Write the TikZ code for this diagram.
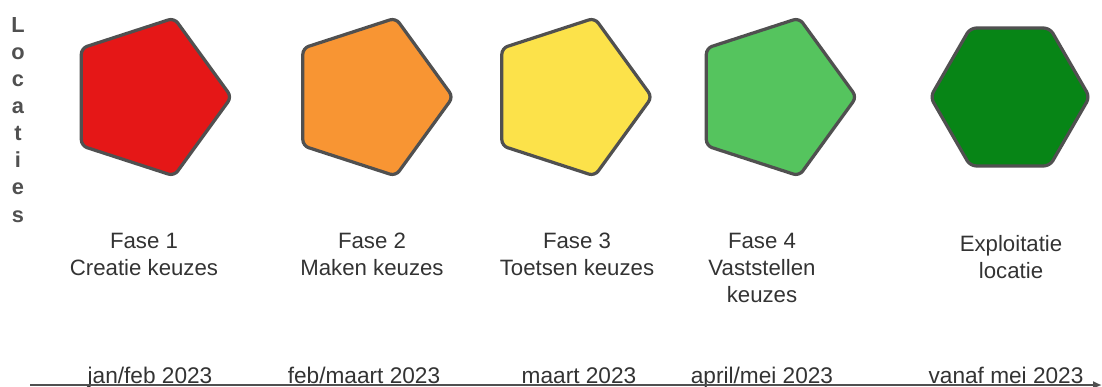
\documentclass[tikz,border=0pt]{standalone}
\usepackage{fontspec}
\setmainfont{Liberation Sans}
\usepackage{xcolor}
\usetikzlibrary{arrows.meta,positioning,shapes.geometric}

\definecolor{edgegray}{HTML}{505050}
\definecolor{textgray}{HTML}{333333}
\definecolor{faseone}{HTML}{E51717}
\definecolor{fasetwo}{HTML}{F89533}
\definecolor{fasethree}{HTML}{FCE24A}
\definecolor{fasefour}{HTML}{55C45E}
\definecolor{exploit}{HTML}{078516}

\begin{document}
\begin{tikzpicture}[
    x=0.025cm, y=-0.025cm,
    phase/.style={regular polygon,regular polygon sides=5,shape border rotate=-90,draw=edgegray,line width=2.3pt,rounded corners=0.15cm,minimum size=4.15cm,inner sep=0pt},
    hexa/.style={regular polygon,regular polygon sides=6,draw=edgegray,line width=2.3pt,rounded corners=0.15cm,minimum size=3.98cm,inner sep=0pt},
    label/.style={align=center,anchor=base,inner sep=0pt,text=textgray,font=\fontsize{15.8}{19.2}\selectfont},
    date/.style={anchor=base,inner sep=0pt,text=textgray,font=\fontsize{16.1}{19}\selectfont},
    axis/.style={-{Latex[length=2.2mm,width=2mm]},edgegray,line width=1.3pt}
]
\useasboundingbox (0,0) rectangle (1102,387);
\node[anchor=base,align=center,inner sep=0pt,text=edgegray,font=\fontsize{15.5}{19.3}\selectfont\bfseries] (loc) at (18,222) {L\\o\\c\\a\\t\\i\\e\\s};
\node[phase,fill=faseone] (f1) at (148.5,97) {};
\node[phase,fill=fasetwo] (f2) at (370,97) {};
\node[phase,fill=fasethree] (f3) at (569,97) {};
\node[phase,fill=fasefour] (f4) at (773.5,97) {};
\node[hexa,fill=exploit] (ex) at (1010,97) {};
\node[label] (l1) at (144,275) {Fase 1\\Creatie keuzes};
\node[label] (l2) at (372,275) {Fase 2\\Maken keuzes};
\node[label] (l3) at (577,275) {Fase 3\\Toetsen keuzes};
\node[label] (l4) at (762,302) {Fase 4\\Vaststellen\\keuzes};
\node[label] (l5) at (1011,278) {Exploitatie\\locatie};
\node[date] (d1) at (150,383) {jan/feb 2023};
\node[date] (d2) at (364,383) {feb/maart 2023};
\node[date] (d3) at (579,383) {maart 2023};
\node[date] (d4) at (762,383) {april/mei 2023};
\node[date] (d5) at (1006,383) {vanaf mei 2023};
\coordinate (axstart) at (30,385);
\coordinate (axend) at (1102,385);
\draw[axis] (axstart) -- (axend);
\end{tikzpicture}
\end{document}
